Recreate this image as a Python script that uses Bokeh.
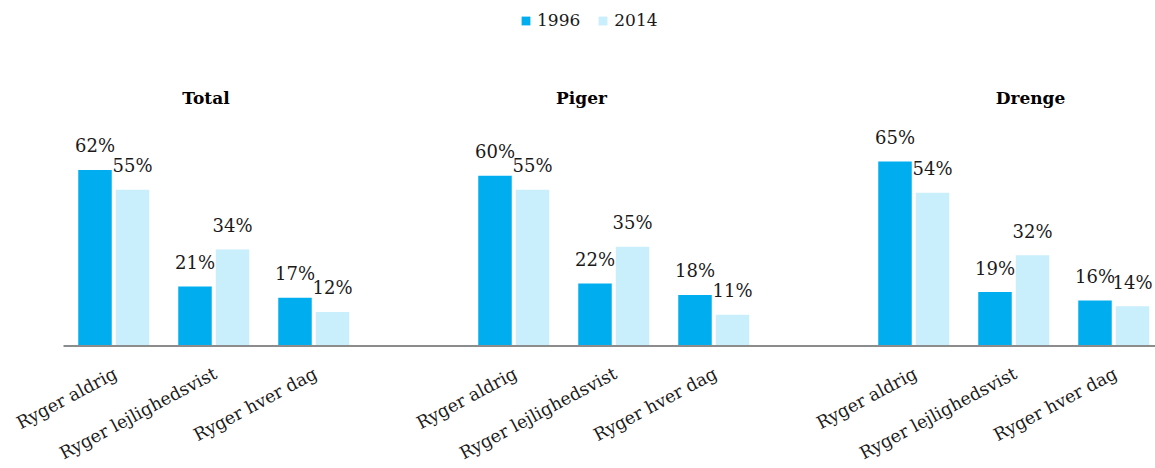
import math
from bokeh.plotting import figure
from bokeh.models import ColumnDataSource, Range1d, Legend, LegendItem, Label
from bokeh.core.properties import value
from bokeh.embed import file_html
from bokeh.resources import INLINE

# ---- data ----
groups = ["Total", "Piger", "Drenge"]
categories = ["Ryger aldrig", "Ryger lejlighedsvist", "Ryger hver dag"]
series = ["1996", "2014"]
total_1996 = [62, 21, 17]
total_2014 = [55, 34, 12]
piger_1996 = [60, 22, 18]
piger_2014 = [55, 35, 11]
drenge_1996 = [65, 19, 16]
drenge_2014 = [54, 32, 14]

# ---- styling / layout ----
FONT = "DejaVu Serif"
C1996 = "#00AEEF"
C2014 = "#C9EEFC"
TEXT = "#1a1a1a"
GROUP_STEP = 4
BAR_W = 0.335
OFF1, OFF2 = -0.185, 0.19
TITLE_X = [0.925, 4.68, 9.17]
TITLE_Y = 87.2
LABEL_ANGLE = 0.49
AXIS_START = -0.5          # where the baseline begins (category area)
X_START, X_END = -1.13, 10.42

vals_1996 = total_1996 + piger_1996 + drenge_1996
vals_2014 = total_2014 + piger_2014 + drenge_2014
xpos = [g * GROUP_STEP + c for g in range(len(groups)) for c in range(len(categories))]
xlabels = [categories[c] for g in range(len(groups)) for c in range(len(categories))]

src1 = ColumnDataSource(dict(x=[x + OFF1 for x in xpos], top=vals_1996,
                             lab=[f"{v}%" for v in vals_1996]))
src2 = ColumnDataSource(dict(x=[x + OFF2 for x in xpos], top=vals_2014,
                             lab=[f"{v}%" for v in vals_2014]))
srcx = ColumnDataSource(dict(x=xpos, y=[0] * len(xpos), lab=xlabels))

p = figure(width=1155, height=468, output_backend="svg", toolbar_location=None,
           x_range=Range1d(X_START, X_END), y_range=Range1d(-43.1, 121.65),
           min_border_left=0, min_border_right=0, min_border_top=0, min_border_bottom=0)
p.outline_line_color = None
p.xgrid.visible = False
p.ygrid.visible = False
p.yaxis.visible = False
p.xaxis.visible = False
p.background_fill_color = "white"
p.border_fill_color = "white"

r1 = p.vbar(x="x", top="top", bottom=0, width=BAR_W, source=src1, fill_color=C1996, line_color=None)
r2 = p.vbar(x="x", top="top", bottom=0, width=BAR_W, source=src2, fill_color=C2014, line_color=None)

# baseline (category axis line)
p.segment(x0=[AXIS_START], y0=[0], x1=[X_END], y1=[0], line_color="#8c8c8c", line_width=2)

for src in (src1, src2):
    p.text(x="x", y="top", text="lab", source=src, text_align="center",
           text_baseline="alphabetic", y_offset=-24, text_font=value(FONT),
           text_font_size="18px", text_color=TEXT)

# category labels (rotated)
p.text(x="x", y="y", text="lab", source=srcx, angle=LABEL_ANGLE, text_align="right",
       text_baseline="alphabetic", x_offset=2, y_offset=26, text_font=value(FONT),
       text_font_size="17.5px", text_color=TEXT)

for g, name in enumerate(groups):
    p.add_layout(Label(x=TITLE_X[g], y=TITLE_Y, text=name, text_align="center",
                       text_baseline="alphabetic", text_font=FONT, text_font_size="17px",
                       text_font_style="bold", text_color="black"))

legend = Legend(items=[LegendItem(label=series[0], renderers=[r1]),
                       LegendItem(label=series[1], renderers=[r2])],
                orientation="horizontal", location=(520, 438),
                glyph_width=11, glyph_height=11, label_standoff=6, spacing=17,
                padding=0, margin=0, border_line_color=None, background_fill_alpha=0,
                label_text_font=FONT, label_text_font_size="17px", label_text_color=TEXT,
                label_height=16)
p.add_layout(legend)

open("out.html", "w").write(file_html(p, INLINE))
